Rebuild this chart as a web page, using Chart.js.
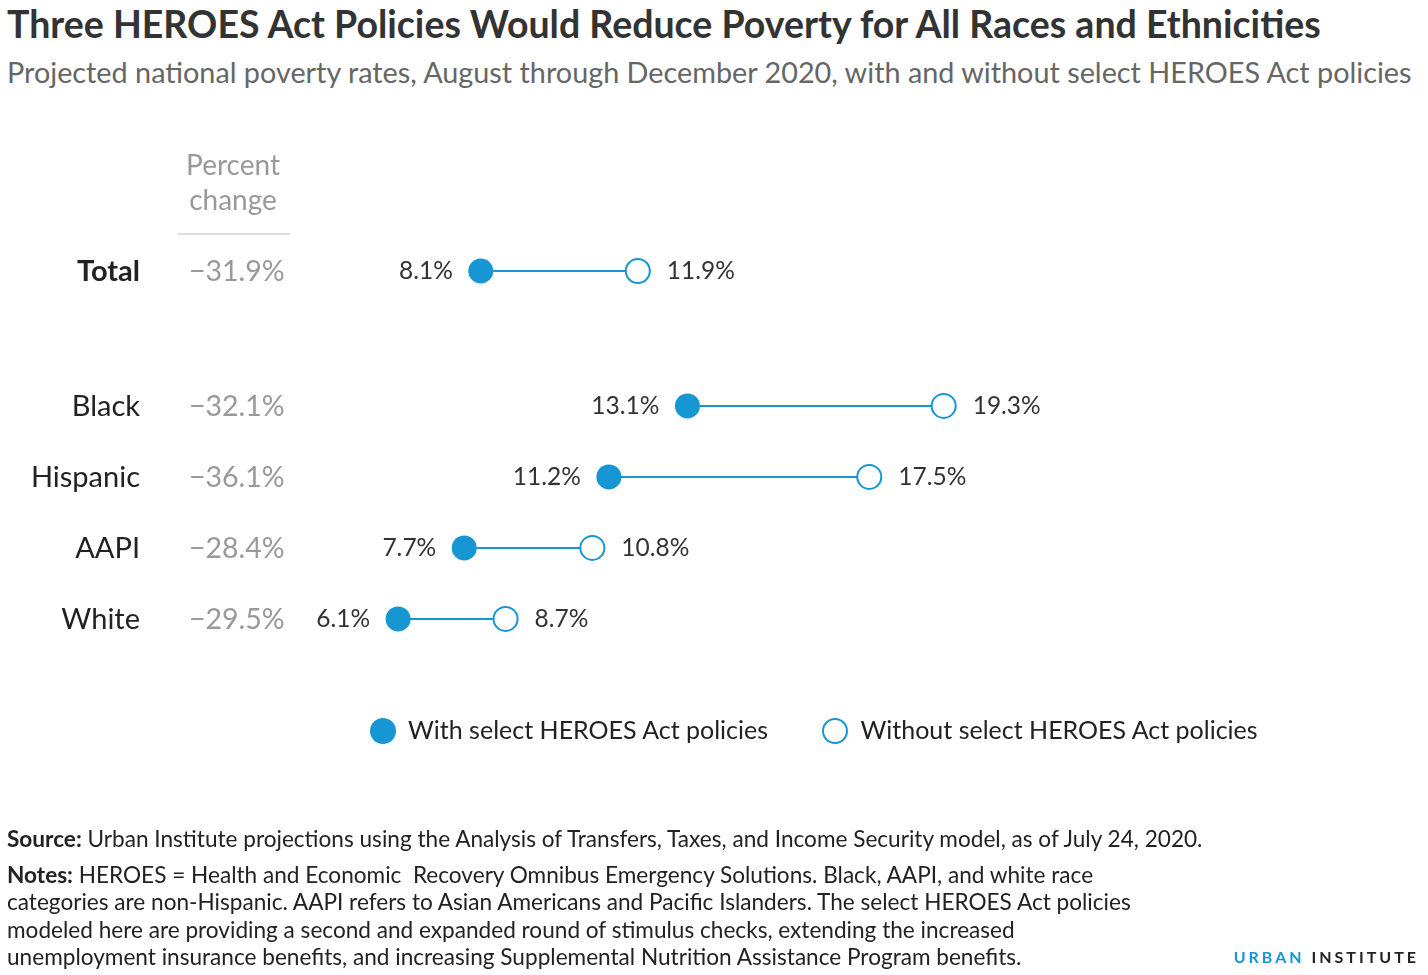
<!DOCTYPE html>
<html>
<head>
<meta charset="utf-8">
<script src="https://cdn.jsdelivr.net/npm/chart.js@4"></script>
<style>
  body { margin: 0; width: 1428px; height: 975px; background: #fff; font-family: Lato, "Open Sans", sans-serif; position: relative; overflow: hidden; }
  #title { position: absolute; left: 7px; top: 1px; font-size: 37.5px; font-weight: bold; color: #333; white-space: nowrap; }
  #subtitle { position: absolute; left: 7px; top: 55px; font-size: 28.8px; color: #666; white-space: nowrap; }
  #wrap { position: absolute; left: 0; top: 0; width: 1428px; height: 975px; }
  #legend { position: absolute; top: 714px; left: 370px; font-size: 25px; color: #222; white-space: nowrap; }
  #legend span.dot { display: inline-block; width: 26px; height: 26px; border-radius: 50%; vertical-align: -5px; margin-right: 12px; box-sizing: border-box; }
  #legend .item { display: inline-block; margin-right: 48px; }
  #notes { position: absolute; left: 7px; top: 825px; font-size: 22.6px; line-height: 27.5px; color: #222; }
  #notes p { margin: 0 0 8px 0; }
  #brand { position: absolute; right: 9px; top: 947px; font-size: 16px; letter-spacing: 3px; font-weight: bold; }
</style>
</head>
<body>
<div id="title">Three HEROES Act Policies Would Reduce Poverty for All Races and Ethnicities</div>
<div id="subtitle">Projected national poverty rates, August through December 2020, with and without select HEROES Act policies</div>
<div id="wrap"><canvas id="c" width="1428" height="975"></canvas></div>
<div id="legend">
  <span class="item"><span class="dot" style="background:#1696d2"></span>With select HEROES Act policies</span>
  <span class="item"><span class="dot" style="border:2px solid #1696d2;background:#fff"></span>Without select HEROES Act policies</span>
</div>
<div id="notes">
  <p style="white-space:nowrap"><b>Source:</b> Urban Institute projections using the Analysis of Transfers, Taxes, and Income Security model, as of July 24, 2020.</p>
  <p style="width:1140px"><b>Notes:</b> HEROES = Health and Economic&nbsp; Recovery Omnibus Emergency Solutions. Black, AAPI, and white race categories are non-Hispanic. AAPI refers to Asian Americans and Pacific Islanders. The select HEROES Act policies modeled here are providing a second and expanded round of stimulus checks, extending the increased unemployment insurance benefits, and increasing Supplemental Nutrition Assistance Program benefits.</p>
</div>
<div id="brand"><span style="color:#1696d2">URBAN</span> <span style="color:#222">INSTITUTE</span></div>
<script>
const categories = ['Total', 'Black', 'Hispanic', 'AAPI', 'White'];
const withPolicy = [8.1, 13.1, 11.2, 7.7, 6.1];
const withoutPolicy = [11.9, 19.3, 17.5, 10.8, 8.7];
const pctChange = ['\u221231.9%', '\u221232.1%', '\u221236.1%', '\u221228.4%', '\u221229.5%'];
const rowPos = [0, 1.9, 2.9, 3.9, 4.9];

const BLUE = '#1696d2';

const labelPlugin = {
  id: 'labels',
  beforeDatasetsDraw(chart) {
    const { ctx, scales: { x, y } } = chart;
    ctx.save();
    ctx.strokeStyle = BLUE;
    ctx.lineWidth = 2;
    categories.forEach((c, i) => {
      const py = y.getPixelForValue(rowPos[i]);
      ctx.beginPath();
      ctx.moveTo(x.getPixelForValue(withPolicy[i]), py);
      ctx.lineTo(x.getPixelForValue(withoutPolicy[i]), py);
      ctx.stroke();
    });
    ctx.restore();
  },
  afterDatasetsDraw(chart) {
    const { ctx, scales: { x, y } } = chart;
    ctx.save();
    ctx.textBaseline = 'middle';
    ctx.fillStyle = '#999';
    ctx.font = '28px Lato';
    ctx.textAlign = 'center';
    ctx.fillText('Percent', 233, 166);
    ctx.fillText('change', 233, 201);
    ctx.strokeStyle = '#ddd';
    ctx.lineWidth = 2;
    ctx.beginPath(); ctx.moveTo(178, 234); ctx.lineTo(290, 234); ctx.stroke();
    categories.forEach((c, i) => {
      const py = y.getPixelForValue(rowPos[i]);
      ctx.textAlign = 'right';
      ctx.fillStyle = '#222';
      ctx.font = (i === 0 ? 'bold ' : '') + '29px Lato';
      ctx.fillText(c, 140, py + 1);
      ctx.textAlign = 'left';
      ctx.fillStyle = '#999';
      ctx.font = '28.5px Lato';
      ctx.fillText(pctChange[i], 189, py + 1);
      ctx.fillStyle = '#333';
      ctx.font = '24.5px Lato';
      ctx.textAlign = 'right';
      ctx.fillText(withPolicy[i].toFixed(1) + '%', x.getPixelForValue(withPolicy[i]) - 28, py);
      ctx.textAlign = 'left';
      ctx.fillText(withoutPolicy[i].toFixed(1) + '%', x.getPixelForValue(withoutPolicy[i]) + 29, py);
    });
    ctx.restore();
  }
};

new Chart(document.getElementById('c'), {
  type: 'scatter',
  data: {
    datasets: [
      {
        label: 'Without select HEROES Act policies',
        data: withoutPolicy.map((v, i) => ({ x: v, y: rowPos[i] })),
        pointRadius: 12, pointBorderWidth: 2,
        pointBackgroundColor: '#fff', pointBorderColor: BLUE
      },
      {
        label: 'With select HEROES Act policies',
        data: withPolicy.map((v, i) => ({ x: v, y: rowPos[i] })),
        pointRadius: 12.5, pointBorderWidth: 0,
        pointBackgroundColor: BLUE, pointBorderColor: BLUE
      }
    ]
  },
  options: {
    responsive: false,
    animation: false,
    layout: { padding: { left: 146, right: 0, top: 200, bottom: 278 } },
    scales: {
      x: { type: 'linear', min: 0, max: 30.68, display: false },
      y: { type: 'linear', min: -1, max: 6, reverse: true, display: false }
    },
    plugins: { legend: { display: false }, tooltip: { enabled: false } }
  },
  plugins: [labelPlugin]
});
</script>
</body>
</html>
